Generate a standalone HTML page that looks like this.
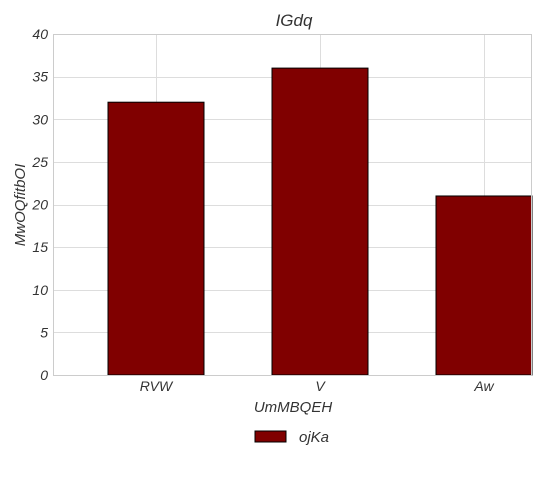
<!DOCTYPE html>
<html><head><meta charset="utf-8"><style>
body{margin:0;background:#fff;}
svg text{font-family:"Liberation Sans",sans-serif;font-style:italic;fill:#333;}
</style></head><body>
<svg id="chart" width="544" height="476" xmlns="http://www.w3.org/2000/svg">
<text x="294" y="26" font-size="17" text-anchor="middle">IGdq</text>
<g id="grid"></g>
<g id="bars"></g>
<rect x="53.5" y="34.5" width="478" height="341" fill="none" stroke="#ccc"/>
<g id="ticks"></g>
<text x="293" y="412" font-size="15" text-anchor="middle">UmMBQEH</text>
<text transform="translate(25,205) rotate(-90)" font-size="15" text-anchor="middle">MwOQfitbOI</text>
<g>
<rect x="255" y="431" width="31" height="11" fill="#800000" stroke="#000"/>
<text x="299" y="442" font-size="15">ojKa</text>
</g>
</svg>
<script>
const categories = ["RVW", "V", "Aw"];
const values = [32, 36, 21];
const yTicks = [0, 5, 10, 15, 20, 25, 30, 35, 40];
const NS = "http://www.w3.org/2000/svg";
const y = v => 375 - v * (341 / 40);
const x = i => 156 + 164 * i;
function mk(tag, attrs, parent){const e=document.createElementNS(NS,tag);for(const k in attrs)e.setAttribute(k,attrs[k]);document.getElementById(parent).appendChild(e);return e;}
yTicks.forEach(t=>{
  const l=mk("line",{x1:54,x2:531,y1:Math.round(y(t))+0.5,y2:Math.round(y(t))+0.5,stroke:"#ddd"},"grid");
  
  
  const tx=mk("text",{x:48,y:y(t)+5,"font-size":14,"text-anchor":"end"},"ticks");
  tx.textContent=t;
  
  
});
categories.forEach((c,i)=>{
  const g=mk("line",{x1:x(i)+0.5,x2:x(i)+0.5,y1:34,y2:375,stroke:"#ddd"},"grid");
  
  
  const b=mk("rect",{x:x(i)-48,y:y(values[i]),width:96,height:375-y(values[i]),fill:"#800000",stroke:"#000"},"bars");
  
  
  const tx=mk("text",{x:x(i),y:391,"font-size":14,"text-anchor":"middle"},"ticks");
  tx.textContent=c;
  
  
});
</script>
</body></html>
